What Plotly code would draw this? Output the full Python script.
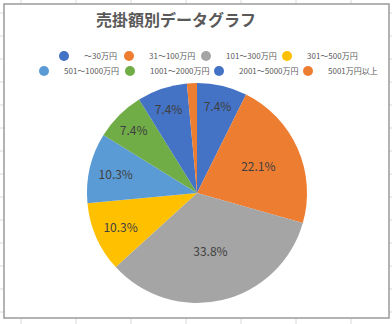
import plotly.graph_objects as go

# 売掛額の区分ごとの件数
categories = ["～30万円", "31～100万円", "101～300万円", "301～500万円",
              "501～1000万円", "1001～2000万円", "2001～5000万円", "5001万円以上"]
counts = [5, 15, 23, 7, 7, 5, 5, 1]
colors = ["#4472C4", "#ED7D31", "#A5A5A5", "#FFC000",
          "#5B9BD5", "#70AD47", "#4472C4", "#ED7D31"]

W, H = 392, 324
JP = "Noto Sans CJK JP"

# 凡例の各項目のマーカー中心（横位置 px, 行の縦位置 px）
legend_marker_x = [63, 128, 205, 286, 43, 129, 218, 307]
legend_row_y = [56, 56, 56, 56, 71, 71, 71, 71]

total = sum(counts)
texts = [f"{c / total * 100:.1f}%" if c / total >= 0.05 else "" for c in counts]

fig = go.Figure()

fig.add_trace(go.Pie(
    labels=categories,
    values=counts,
    sort=False,
    direction="clockwise",
    rotation=0,
    marker=dict(colors=colors, line=dict(width=0)),
    text=texts,
    textinfo="text",
    textposition="inside",
    insidetextorientation="horizontal",
    textfont=dict(family=JP, size=12, color="#404040"),
    showlegend=False,
    hoverinfo="label+value+percent",
    domain=dict(x=[(197 - 110) / W, (197 + 110) / W],
                y=[1 - 303 / H, 1 - 83 / H]),
))

# 凡例：項目ごとに独立した凡例を置く
legend_layouts = {}
for i, (name, col) in enumerate(zip(categories, colors)):
    key = "legend" if i == 0 else f"legend{i + 1}"
    fig.add_trace(go.Scatter(
        x=[None], y=[None], mode="markers", name=name,
        marker=dict(color=col, size=10, symbol="circle"),
        legend=key, hoverinfo="skip",
    ))
    legend_layouts[key] = dict(
        x=(legend_marker_x[i] - 19) / W, xanchor="left",
        y=1 - legend_row_y[i] / H, yanchor="middle",
        orientation="h",
        font=dict(family=JP, size=8, color="#595959"),
        bgcolor="rgba(0,0,0,0)", borderwidth=0,
        itemsizing="trace", itemclick=False,
    )

# シートのセル罫線と、グラフ領域の枠
shapes = []
for gx in range(21, W, 55):
    shapes.append(dict(type="line", xref="paper", yref="paper",
                       x0=gx / W, x1=gx / W, y0=0, y1=1,
                       line=dict(color="#dadada", width=1), layer="below"))
for gy in range(13, H, 23):
    shapes.append(dict(type="line", xref="paper", yref="paper",
                       x0=0, x1=1, y0=1 - gy / H, y1=1 - gy / H,
                       line=dict(color="#dadada", width=1), layer="below"))
shapes.append(dict(type="rect", xref="paper", yref="paper",
                   x0=4 / W, x1=389 / W, y0=1 - 318 / H, y1=1 - 4 / H,
                   fillcolor="white", line=dict(color="#9a9a9a", width=1.5),
                   layer="below"))

fig.update_layout(
    width=W, height=H,
    margin=dict(l=0, r=0, t=0, b=0),
    paper_bgcolor="white",
    plot_bgcolor="rgba(0,0,0,0)",
    xaxis=dict(visible=False),
    yaxis=dict(visible=False),
    shapes=shapes,
    title=dict(text="売掛額別データグラフ", x=96 / W, xanchor="left",
               y=1 - 20 / H, yanchor="middle",
               font=dict(family=JP, size=16, color="#595959", weight="bold")),
    showlegend=True,
    **legend_layouts,
)

fig.write_html("out.html")
